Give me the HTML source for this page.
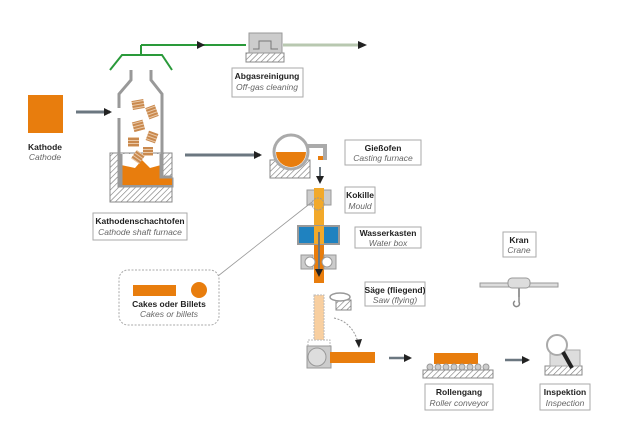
<!DOCTYPE html>
<html><head><meta charset="utf-8"><style>
html,body{margin:0;padding:0;background:#fff;}
svg{display:block;font-family:"Liberation Sans",sans-serif;}
.b{font-size:8.5px;font-weight:bold;fill:#222;text-anchor:middle;}
.i{font-size:8.5px;font-style:italic;fill:#666;text-anchor:middle;}
.lb{fill:#fff;stroke:#aaa;stroke-width:1;}
</style></head><body>
<svg width="640" height="433" viewBox="0 0 640 433">
<defs>
<pattern id="h" width="4" height="4" patternUnits="userSpaceOnUse" patternTransform="rotate(45)">
<rect width="4" height="4" fill="#fff"/><line x1="0" y1="0" x2="0" y2="4" stroke="#777" stroke-width="1.2"/></pattern>
<pattern id="s" width="3" height="3" patternUnits="userSpaceOnUse">
<rect width="3" height="3" fill="#c9894e"/><line x1="0" y1="2.5" x2="3" y2="2.5" stroke="#f3d9bd" stroke-width="0.8"/></pattern>
<marker id="a" markerWidth="8" markerHeight="8" refX="6" refY="4" orient="auto" markerUnits="userSpaceOnUse"><path d="M0,0 L8,4 L0,8z" fill="#222"/></marker>
</defs>
<!-- Kathode -->
<rect x="28" y="95" width="35" height="38" fill="#e87d0d"/>
<text class="b" x="45" y="150">Kathode</text><text class="i" x="45" y="160">Cathode</text>
<line x1="76" y1="112" x2="110" y2="112" stroke="#6b7780" stroke-width="3" marker-end="url(#a)"/>
<!-- shaft furnace -->
<rect x="110" y="153" width="62" height="49" fill="url(#h)" stroke="#888"/>
<path d="M131,70 V80 L119,94 V108 M119,118 V186 H172 V179 H162 V94 L151,80 V70" fill="none" stroke="#999" stroke-width="3"/>
<rect x="120" y="154" width="41" height="31" fill="#fff"/>
<path d="M121,185 V165 L135,168 L142,160 L150,168 L161,165 V177 H172 V185z" fill="#e87d0d"/>
<path d="M121,185 V154 M161,154 V177 H172" fill="none" stroke="#999" stroke-width="3"/>
<g fill="url(#s)">
<rect x="132" y="100" width="12" height="9" transform="rotate(-10 138 104)"/>
<rect x="147" y="106" width="10" height="12" transform="rotate(-20 152 112)"/>
<rect x="133" y="121" width="11" height="10" transform="rotate(-15 138 126)"/>
<rect x="128" y="137" width="11" height="10"/>
<rect x="147" y="132" width="10" height="10" transform="rotate(20 152 137)"/>
<rect x="143" y="147" width="10" height="9"/>
<rect x="133" y="152" width="10" height="10" transform="rotate(35 138 157)"/>
</g>
<path d="M110,70 L122,55 H162 L172,70 M141,55 V45" fill="none" stroke="#2a9a3a" stroke-width="2"/>
<path d="M141,45 H246" fill="none" stroke="#2a9a3a" stroke-width="2"/>
<path d="M141,45 H203" stroke="#2a9a3a" stroke-width="2" marker-end="url(#a)"/>
<rect x="93" y="213" width="94" height="27" class="lb"/>
<text class="b" x="140" y="224">Kathodenschachtofen</text><text class="i" x="140" y="235">Cathode shaft furnace</text>
<!-- gas cleaning -->
<rect x="246" y="53" width="38" height="9" fill="url(#h)" stroke="#888"/>
<rect x="249" y="33" width="33" height="20" fill="#ccc" stroke="#999"/>
<path d="M253,49 H259 V41 H271 V49 H278" fill="none" stroke="#777"/>
<line x1="283" y1="45" x2="358" y2="45" stroke="#b8c8b0" stroke-width="3"/>
<path d="M358,41 L367,45 L358,49z" fill="#222"/>
<rect x="232" y="68" width="71" height="29" class="lb"/>
<text class="b" x="267" y="79">Abgasreinigung</text><text class="i" x="267" y="90">Off-gas cleaning</text>
<line x1="185" y1="155" x2="260" y2="155" stroke="#6b7780" stroke-width="3" marker-end="url(#a)"/>
<!-- casting furnace -->
<rect x="270" y="160" width="40" height="18" fill="url(#h)" stroke="#888"/>
<circle cx="291" cy="152" r="17" fill="#fff" stroke="#aaa" stroke-width="3"/>
<path d="M276,152 H306 A15,15 0 0 1 276,152z" fill="#e87d0d"/>
<path d="M306,146 H325 V160" fill="none" stroke="#aaa" stroke-width="4"/>
<rect x="318" y="156" width="5" height="4" fill="#e87d0d"/>
<rect x="345" y="140" width="76" height="25" class="lb"/>
<text class="b" x="383" y="151">Gießofen</text><text class="i" x="383" y="161">Casting furnace</text>
<line x1="320" y1="167" x2="320" y2="182" stroke="#6b7780" stroke-width="2" marker-end="url(#a)"/>
<!-- mould & strand -->
<rect x="307" y="190" width="24" height="15" fill="#ccc" stroke="#999"/>
<rect x="314" y="188" width="10" height="95" fill="#f2a92a"/>
<rect x="314" y="240" width="10" height="43" fill="#e87d0d"/>
<circle cx="318" cy="204" r="6" fill="none" stroke="#999" stroke-dasharray="2,1"/>
<rect x="345" y="187" width="30" height="26" class="lb"/>
<text class="b" x="360" y="198">Kokille</text><text class="i" x="360" y="209">Mould</text>
<rect x="298" y="226" width="41" height="18" fill="#1f82c0" stroke="#999" stroke-width="2"/>
<rect x="314" y="226" width="10" height="18" fill="#f2a92a"/>
<rect x="355" y="227" width="66" height="21" class="lb"/>
<text class="b" x="388" y="236">Wasserkasten</text><text class="i" x="388" y="246">Water box</text>
<rect x="301" y="255" width="12" height="14" fill="#ccc" stroke="#999"/><circle cx="310" cy="262" r="5" fill="#fff" stroke="#999"/>
<rect x="324" y="255" width="12" height="14" fill="#ccc" stroke="#999"/><circle cx="327" cy="262" r="5" fill="#fff" stroke="#999"/>
<line x1="319" y1="232" x2="319" y2="275" stroke="#6b7780" stroke-width="2" marker-end="url(#a)"/>
<!-- saw -->
<rect x="336" y="300" width="15" height="10" fill="url(#h)" stroke="#888"/>
<ellipse cx="340" cy="297" rx="10" ry="4" fill="#fff" stroke="#999" stroke-width="1.5"/>
<rect x="365" y="282" width="60" height="24" class="lb"/>
<text class="b" x="395" y="293">Säge (fliegend)</text><text class="i" x="395" y="303">Saw (flying)</text>
<rect x="314" y="295" width="10" height="45" fill="#f8cfa0" stroke="#bbb" stroke-dasharray="2,1"/>
<path d="M334,318 Q352,322 358,342" fill="none" stroke="#999" stroke-dasharray="2,1.5"/>
<path d="M355,340 L359,348 L362,339z" fill="#222"/>
<!-- tilt -->
<rect x="308" y="340" width="22" height="8" fill="none" stroke="#bbb" stroke-dasharray="2,1"/>
<rect x="307" y="346" width="24" height="22" fill="#ccc" stroke="#999"/>
<circle cx="317" cy="357" r="9" fill="#ddd" stroke="#999"/>
<rect x="330" y="352" width="45" height="11" fill="#e87d0d"/>
<line x1="389" y1="358" x2="410" y2="358" stroke="#6b7780" stroke-width="2.5" marker-end="url(#a)"/>
<!-- roller -->
<rect x="434" y="353" width="44" height="11" fill="#e87d0d"/>
<rect x="423" y="370" width="70" height="8" fill="url(#h)" stroke="#888"/>
<g fill="#ccc" stroke="#999"><circle cx="430" cy="367" r="3"/><circle cx="438" cy="367" r="3"/><circle cx="446" cy="367" r="3"/><circle cx="454" cy="367" r="3"/><circle cx="462" cy="367" r="3"/><circle cx="470" cy="367" r="3"/><circle cx="478" cy="367" r="3"/><circle cx="486" cy="367" r="3"/></g>
<rect x="425" y="384" width="68" height="26" class="lb"/>
<text class="b" x="459" y="395">Rollengang</text><text class="i" x="459" y="406">Roller conveyor</text>
<line x1="505" y1="360" x2="528" y2="360" stroke="#6b7780" stroke-width="2.5" marker-end="url(#a)"/>
<!-- inspection -->
<rect x="545" y="366" width="37" height="9" fill="url(#h)" stroke="#888"/>
<rect x="550" y="350" width="30" height="16" fill="#ddd" stroke="#aaa"/>
<circle cx="557" cy="345" r="10" fill="#fff" stroke="#aaa" stroke-width="2"/>
<line x1="563" y1="352" x2="572" y2="368" stroke="#222" stroke-width="4"/>
<rect x="540" y="384" width="50" height="26" class="lb"/>
<text class="b" x="565" y="395">Inspektion</text><text class="i" x="565" y="406">Inspection</text>
<!-- crane -->
<rect x="503" y="232" width="33" height="25" class="lb"/>
<text class="b" x="519" y="243">Kran</text><text class="i" x="519" y="253">Crane</text>
<rect x="480" y="283" width="78" height="4" fill="#ddd" stroke="#999"/>
<rect x="508" y="278" width="22" height="10" rx="4" fill="#ddd" stroke="#999"/>
<line x1="519" y1="288" x2="519" y2="297" stroke="#999" stroke-width="2"/>
<path d="M519,297 v5 a3,3 0 1 1 -4,-1" fill="none" stroke="#888" stroke-width="1.5"/>
<!-- cakes -->
<line x1="218" y1="276" x2="312" y2="202" stroke="#999" stroke-width="0.8"/>
<rect x="119" y="270" width="100" height="55" rx="9" fill="#fff" stroke="#aaa" stroke-dasharray="2,1.5"/>
<rect x="133" y="285" width="43" height="11" fill="#e87d0d"/>
<circle cx="199" cy="290" r="8" fill="#e87d0d"/>
<text class="b" x="169" y="307">Cakes oder Billets</text><text class="i" x="169" y="317">Cakes or billets</text>
</svg>
</body></html>
